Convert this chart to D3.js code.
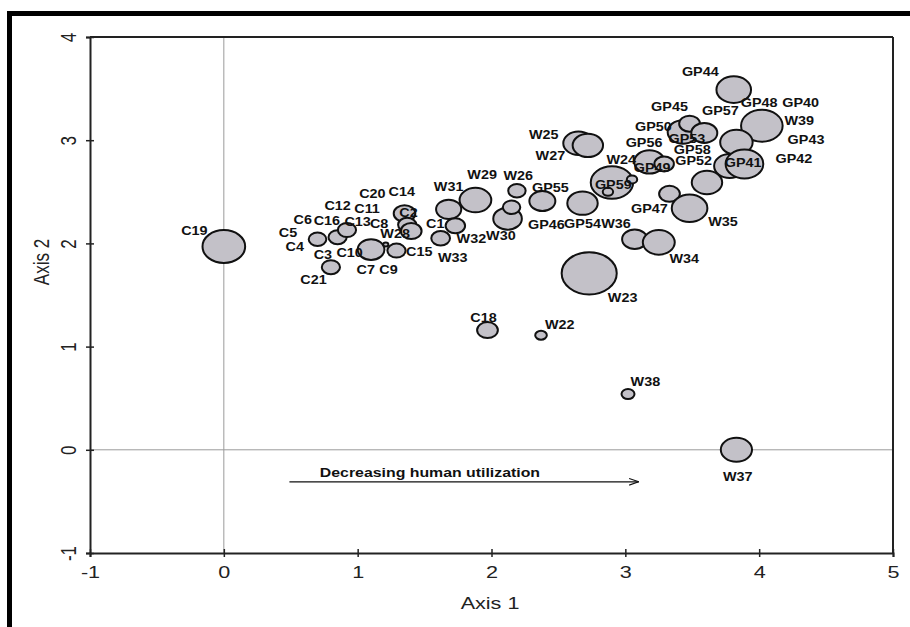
<!DOCTYPE html>
<html><head><meta charset="utf-8">
<script src="https://cdn.jsdelivr.net/npm/d3@7"></script>
<style>body{margin:0;background:#fff}svg{display:block}</style>
</head><body>
<svg id="chart" width="910" height="627"></svg>
<script>
// ---------- DATA ----------
const pointNames = ["C19","C4","C16","C13","C21","C7","C8","C15","C2","C20","W28",
  "W31","C1","W33","W29","W30","GP46","W26","GP55",
  "W25","W27","GP59","W24","GP51","GP54","GP56","GP49","GP47",
  "GP50","GP45","GP57","GP44","W39","GP43","GP42","GP41","GP52",
  "W35","W36","W34","W23","C18","W22","W38","W37"];
const axis1Scores = [0.00,0.70,0.85,0.92,0.80,1.10,1.21,1.29,1.35,1.37,1.40,
  1.68,1.73,1.62,1.88,2.12,2.15,2.19,2.38,
  2.65,2.72,2.90,3.05,2.87,2.68,3.18,3.29,3.33,
  3.43,3.48,3.59,3.81,4.02,3.83,3.78,3.89,3.61,
  3.48,3.07,3.25,2.73,1.97,2.37,3.02,3.83];
const axis2Scores = [1.97,2.04,2.06,2.13,1.77,1.94,1.99,1.93,2.29,2.18,2.12,
  2.33,2.17,2.05,2.42,2.24,2.35,2.51,2.41,
  2.97,2.95,2.59,2.62,2.50,2.39,2.79,2.77,2.48,
  3.08,3.16,3.07,3.49,3.14,2.98,2.75,2.77,2.59,
  2.34,2.04,2.01,1.71,1.16,1.11,0.54,0.00];
const bubbleValues = [269,46,49,49,49,106,4,49,69,49,64,
  94,56,52,149,121,45,45,100,
  137,137,266,16,16,137,137,56,64,
  137,64,100,177,256,156,144,210,137,
  188,94,151,449,64,20,25,144];

const labelTexts = ["C19","C20","C14","C12","C11","C13","C8","C6","C16","C5","C4","C3","C10",
  "C21","C7","C9","W28","C15","C2","C1","W31","W29","W26","GP55","W32","W30","GP46","W33",
  "W27","W25","GP54","W36","W23","W34","W35","GP47","GP59","W24","GP49","GP56","GP50",
  "GP45","GP53","GP58","GP52","GP57","GP44","GP48","GP40","W39","GP43","GP42","GP41",
  "C18","W22","W38","W37"];
const labelAxis1 = [-0.22,1.11,1.33,0.85,1.07,1.00,1.16,0.59,0.77,0.48,0.53,0.74,0.94,
  0.67,1.06,1.23,1.28,1.46,1.38,1.58,1.68,1.93,2.20,2.44,1.85,2.07,2.41,1.71,
  2.44,2.39,2.68,2.93,2.98,3.44,3.73,3.18,2.91,2.97,3.20,3.14,3.21,
  3.33,3.46,3.50,3.51,3.71,3.56,4.00,4.31,4.30,4.35,4.26,3.88,
  1.94,2.51,3.15,3.84];
const labelAxis2 = [2.12,2.48,2.50,2.36,2.33,2.21,2.19,2.23,2.22,2.10,1.97,1.89,1.91,
  1.65,1.74,1.74,2.09,1.92,2.30,2.19,2.55,2.66,2.65,2.54,2.04,2.07,2.18,1.86,
  2.85,3.05,2.19,2.19,1.47,1.85,2.21,2.33,2.57,2.81,2.73,2.97,3.13,
  3.32,3.01,2.91,2.80,3.28,3.66,3.36,3.36,3.19,3.00,2.82,2.78,
  1.28,1.21,0.66,-0.26];

const xTicks = [-1,0,1,2,3,4,5];
const yTicks = [-1,0,1,2,3,4];
const xTitle = "Axis 1";
const yTitle = "Axis 2";
const arrowText = "Decreasing human utilization";
const arrowStart = [0.49,-0.31];
const arrowEnd = [3.10,-0.31];
const arrowTextPos = [1.54,-0.22];

// ---------- LAYOUT ----------
const W = 910, H = 627;
const plot = {left: 90, right: 893, top: 37, bottom: 553};
const svg = d3.select("#chart");
const x = d3.scaleLinear().domain([-1,5]).range([plot.left, plot.right]);
const y = d3.scaleLinear().domain([-1,4]).range([plot.bottom, plot.top]);
const rScale = d3.scaleSqrt().domain([0,400]).range([0,20]);
const aspect = 1.3;      // horizontal stretch of the original figure
const stretch = 1.27;    // axis text horizontal stretch
const labStretch = 1.2;  // point-label horizontal stretch
const font = "'Liberation Sans', Arial, Helvetica, sans-serif";
const fmt = d => String(d);

svg.append("rect").attr("width",W).attr("height",H).attr("fill","#fff");

// outer frame
svg.append("rect").attr("x",9.5).attr("y",13.5).attr("width",1000).attr("height",1000)
  .attr("fill","none").attr("stroke","#000").attr("stroke-width",5);

// reference lines at 0
svg.append("line").attr("x1",x(0)).attr("x2",x(0)).attr("y1",plot.top).attr("y2",plot.bottom)
  .attr("stroke","#9a9a9a").attr("stroke-width",1);
svg.append("line").attr("x1",plot.left).attr("x2",plot.right).attr("y1",y(0)).attr("y2",y(0))
  .attr("stroke","#9a9a9a").attr("stroke-width",1);

// plot box top/right
svg.append("line").attr("x1",plot.left).attr("x2",plot.right).attr("y1",plot.top).attr("y2",plot.top)
  .attr("stroke","#222").attr("stroke-width",2);
svg.append("line").attr("x1",plot.right).attr("x2",plot.right).attr("y1",plot.top).attr("y2",plot.bottom)
  .attr("stroke","#222").attr("stroke-width",2);

// x axis
const gx = svg.append("g").attr("transform",`translate(0,${plot.bottom})`)
  .call(d3.axisBottom(x).tickValues(xTicks).tickFormat(fmt).tickSizeOuter(0).tickSize(4));
gx.select(".domain").attr("stroke","#222").attr("stroke-width",2);
gx.selectAll(".tick line").attr("stroke","#222").attr("stroke-width",1.5).attr("y1",-4).attr("y2",4);
gx.selectAll(".tick text").attr("font-family",font).attr("font-size",17).attr("fill","#222")
  .attr("y",null).attr("dy",null).attr("dominant-baseline","central").attr("text-anchor","middle")
  .attr("transform",`translate(0,19) scale(${stretch},1)`);

// y axis
const gy = svg.append("g").attr("transform",`translate(${plot.left},0)`)
  .call(d3.axisLeft(y).tickValues(yTicks).tickFormat(fmt).tickSizeOuter(0).tickSize(4));
gy.select(".domain").attr("stroke","#222").attr("stroke-width",2);
gy.selectAll(".tick line").attr("stroke","#222").attr("stroke-width",1.5).attr("x1",-4).attr("x2",4);
gy.selectAll(".tick text").attr("font-family",font).attr("font-size",17).attr("fill","#222")
  .attr("x",0).attr("dy",null).attr("text-anchor","middle").attr("dominant-baseline","central")
  .attr("transform",`translate(-22,0) scale(${stretch},1) rotate(-90)`);

// axis titles
svg.append("text").attr("transform",`translate(490,603) scale(${stretch},1)`)
  .attr("text-anchor","middle").attr("dominant-baseline","central")
  .attr("font-family",font).attr("font-size",17).attr("fill","#222").text(xTitle);
svg.append("text").attr("transform",`translate(41,262) scale(${stretch},1) rotate(-90)`).attr("text-anchor","middle")
  .attr("dominant-baseline","central").attr("font-family",font).attr("font-size",17).attr("fill","#222").text(yTitle);

// bubbles
const pts = pointNames.map((n,i)=>({name:n, a1:axis1Scores[i], a2:axis2Scores[i], v:bubbleValues[i]}));
svg.append("g").selectAll("ellipse").data(pts).join("ellipse")
  .attr("cx",d=>x(d.a1)).attr("cy",d=>y(d.a2))
  .attr("rx",d=>rScale(d.v)*aspect).attr("ry",d=>rScale(d.v))
  .attr("fill","#c3c1c8").attr("stroke","#111").attr("stroke-width",2);

// labels
const labs = labelTexts.map((t,i)=>({t, a1:labelAxis1[i], a2:labelAxis2[i]}));
svg.append("g").selectAll("text").data(labs).join("text")
  .attr("transform",d=>`translate(${x(d.a1)},${y(d.a2)}) scale(${labStretch},1)`)
  .attr("text-anchor","middle").attr("dominant-baseline","central")
  .attr("font-family",font).attr("font-weight","bold").attr("font-size",12).attr("fill","#111")
  .text(d=>d.t);

// arrow
const defs = svg.append("defs");
defs.append("marker").attr("id","ah").attr("viewBox","0 0 10 10").attr("refX",10).attr("refY",5)
  .attr("markerWidth",8).attr("markerHeight",8).attr("orient","auto")
  .append("path").attr("d","M0,1.5 L10,5 L0,8.5").attr("fill","none").attr("stroke","#111").attr("stroke-width",1.2);
svg.append("line").attr("x1",x(arrowStart[0])).attr("y1",y(arrowStart[1]))
  .attr("x2",x(arrowEnd[0])).attr("y2",y(arrowEnd[1]))
  .attr("stroke","#111").attr("stroke-width",1.2).attr("marker-end","url(#ah)");
svg.append("text").attr("transform",`translate(${x(arrowTextPos[0])},${y(arrowTextPos[1])}) scale(${stretch},1)`)
  .attr("text-anchor","middle").attr("dominant-baseline","central")
  .attr("font-family",font).attr("font-weight","bold").attr("font-size",12.5).attr("fill","#111")
  .text(arrowText);
</script>
</body></html>
